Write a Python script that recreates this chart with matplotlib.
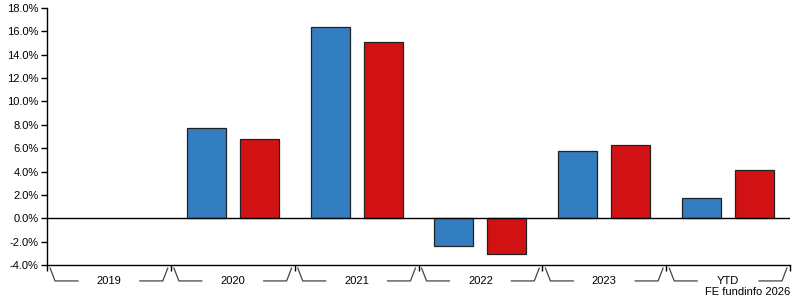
import matplotlib.pyplot as plt
import numpy as np

# Annual performance per period
periods = ["2019", "2020", "2021", "2022", "2023", "YTD"]
fund = [np.nan, 7.7, 16.4, -2.4, 5.8, 1.7]
sector = [np.nan, 6.8, 15.1, -3.1, 6.3, 4.1]

blue = "#337ec0"
red = "#d01214"

plt.rcParams["font.family"] = ["Liberation Sans", "DejaVu Sans"]
plt.rcParams["font.size"] = 8

fig = plt.figure(figsize=(7.95, 3.0), dpi=100)
ax = fig.add_axes([47 / 795, 35 / 300, 743 / 795, 257 / 300])

x = np.arange(len(periods))
w = 0.315
off = 0.214
ax.bar(x - off, fund, w, color=blue, edgecolor="#222222", linewidth=0.9, zorder=3)
ax.bar(x + off, sector, w, color=red, edgecolor="#222222", linewidth=0.9, zorder=3)

ax.axhline(0, color="black", linewidth=1, zorder=4)

ax.set_xlim(-0.5, len(periods) - 0.5)
ax.set_ylim(-4, 18)
ax.set_yticks(np.arange(-4, 19, 2))
ax.set_yticklabels([f"{v:.1f}%" for v in np.arange(-4, 19, 2)])
ax.set_xticks(np.arange(len(periods) + 1) - 0.5)
ax.set_xticklabels([])
ax.tick_params(axis="both", length=4, width=1, color="black", pad=2)

for s in ["top", "right"]:
    ax.spines[s].set_visible(False)
for s in ["left", "bottom"]:
    ax.spines[s].set_linewidth(1)

# group brackets and labels under the axis
trans = ax.get_xaxis_transform()
ytop = -0.012
ybot = -0.062
for i, p in enumerate(periods):
    l = i - 0.5
    r = i + 0.5
    ax.plot([l + 0.025, l + 0.065, l + 0.25], [ytop, ybot, ybot], transform=trans,
            color="#444444", linewidth=0.9, clip_on=False)
    ax.plot([r - 0.025, r - 0.065, r - 0.25], [ytop, ybot, ybot], transform=trans,
            color="#444444", linewidth=0.9, clip_on=False)
    ax.text(i, -0.062, p, transform=trans, ha="center", va="center")

fig.text(790 / 795, 3 / 300, "FE fundinfo 2026", ha="right", va="bottom")

fig.savefig("out.png", dpi=100)
